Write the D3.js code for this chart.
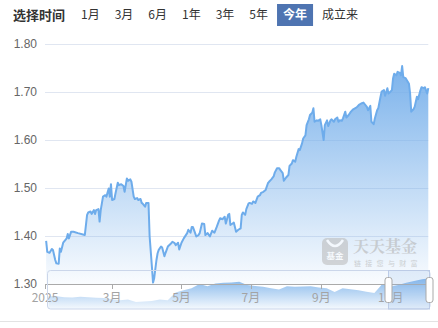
<!DOCTYPE html>
<html>
<head>
<meta charset="utf-8">
<script src="https://cdn.jsdelivr.net/npm/d3@7"></script>
<style>
  html, body { margin: 0; padding: 0; background: #fff; }
  svg { display: block; font-family: "Liberation Sans", Arial, "Noto Sans CJK SC", sans-serif; }
  .cjk { font-family: "Noto Sans CJK SC", "Microsoft YaHei", sans-serif; }
</style>
</head>
<body>
<svg id="chart" width="438" height="328"></svg>
<script>
var YEAR = 2025;

// 今年 unit NAV
var navDates = [
  '01-02','01-03','01-05','01-07','01-08','01-10','01-11','01-13','01-14','01-15',
  '01-17','01-19','01-20','01-21','01-22','01-24','01-26','01-30','02-05','02-07',
  '02-08','02-10','02-11','02-13','02-14','02-15','02-17','02-18','02-19','02-21',
  '02-23','02-24','02-26','02-27','02-28','03-01','03-03','03-04','03-06','03-07',
  '03-09','03-11','03-12','03-14','03-15','03-17','03-18','03-20','03-21','03-23',
  '03-24','03-26','03-27','03-28','03-30','03-31','04-02','04-03','04-05','04-06',
  '04-07','04-09','04-10','04-11','04-13','04-14','04-16','04-17','04-19','04-22',
  '04-23','04-25','04-26','04-28','04-29','05-01','05-03','05-06','05-07','05-09',
  '05-10','05-11','05-13','05-14','05-16','05-17','05-19','05-21','05-22','05-24',
  '05-26','05-28','05-30','06-01','06-03','06-04','06-06','06-08','06-09','06-11',
  '06-12','06-13','06-15','06-16','06-18','06-20','06-22','06-23','06-24','06-26',
  '06-27','06-29','06-30','07-02','07-03','07-05','07-07','07-09','07-10','07-12',
  '07-14','07-16','07-17','07-19','07-21','07-22','07-24','07-26','07-27','07-29',
  '07-30','08-01','08-03','08-04','08-06','08-07','08-09','08-10','08-12','08-13',
  '08-15','08-16','08-18','08-19','08-21','08-22','08-24','08-25','08-26','08-28',
  '08-29','08-31','09-01','09-03','09-04','09-06','09-07','09-09','09-10','09-12',
  '09-13','09-15','09-16','09-17','09-19','09-20','09-22','09-23','09-25','09-27',
  '09-29','10-02','10-04','10-06','10-08','10-09','10-11','10-12','10-14','10-15',
  '10-17','10-18','10-20','10-21','10-23','10-24','10-26','10-27','10-29','10-30',
  '10-31','11-02','11-03','11-04','11-06','11-07','11-09','11-10','11-11','11-12',
  '11-14','11-15','11-17','11-18','11-19','11-21','11-22','11-24','11-25','11-27',
  '11-28','11-30','12-01','12-03','12-04'
];
var navValues = [
  1.390,1.367,1.365,1.373,1.371,1.350,1.343,1.342,1.374,1.367,
  1.386,1.392,1.395,1.404,1.395,1.409,1.409,1.406,1.402,1.444,
  1.449,1.451,1.446,1.454,1.446,1.454,1.456,1.430,1.454,1.482,
  1.485,1.482,1.499,1.482,1.508,1.475,1.477,1.489,1.511,1.506,
  1.508,1.504,1.492,1.520,1.515,1.518,1.513,1.482,1.477,1.479,
  1.475,1.477,1.469,1.467,1.461,1.469,1.469,1.399,1.336,1.303,
  1.312,1.350,1.364,1.371,1.378,1.376,1.358,1.365,1.378,1.385,
  1.388,1.385,1.381,1.386,1.372,1.386,1.395,1.406,1.413,1.407,
  1.419,1.419,1.406,1.399,1.402,1.406,1.426,1.425,1.402,1.406,
  1.399,1.411,1.407,1.419,1.432,1.437,1.435,1.440,1.426,1.444,
  1.446,1.423,1.426,1.428,1.409,1.413,1.416,1.444,1.449,1.444,
  1.456,1.468,1.469,1.467,1.472,1.469,1.482,1.485,1.490,1.492,
  1.496,1.510,1.513,1.518,1.524,1.532,1.541,1.541,1.537,1.531,
  1.515,1.522,1.527,1.546,1.551,1.558,1.555,1.565,1.581,1.579,
  1.593,1.603,1.610,1.631,1.643,1.652,1.657,1.666,1.638,1.641,
  1.640,1.643,1.631,1.600,1.631,1.641,1.629,1.641,1.643,1.638,
  1.643,1.647,1.638,1.641,1.640,1.645,1.659,1.647,1.652,1.659,
  1.664,1.668,1.673,1.676,1.678,1.675,1.669,1.662,1.671,1.638,
  1.633,1.645,1.662,1.666,1.690,1.701,1.704,1.692,1.708,1.697,
  1.699,1.704,1.728,1.738,1.735,1.742,1.740,1.735,1.754,1.731,
  1.729,1.725,1.717,1.697,1.659,1.664,1.669,1.690,1.685,1.703,
  1.710,1.708,1.710,1.697,1.708
];

// full history shown in the zoom slider
var historyValues = [
  1.15,1.15,1.12,1.11,1.13,1.12,1.10,1.09,1.05,1.02,1.04,0.96,0.98,0.99,
  1.04,1.02,1.27,1.35,1.41,1.55,1.48,1.57,1.59,1.60,1.63,1.52,1.49,1.46,
  1.41,1.37,1.48,1.46,1.47,1.48,1.44,1.41,1.29,1.41,1.38,1.35,1.30,1.26,
  1.55,1.46,1.52,1.59,1.65,1.71,1.74
];

var yTicks = [1.30, 1.40, 1.50, 1.60, 1.70, 1.80];
var xTickDates = ['01-01', '03-01', '05-01', '07-01', '09-01', '11-01'];
var xTickLabels = ['2025', '3月', '5月', '7月', '9月', '11月'];
var tabs = ['1月', '3月', '6月', '1年', '3年', '5年', '今年', '成立来'];
var activeTab = '今年';

var parseDay = d3.timeParse('%Y-%m-%d');
function toDate(md) { return parseDay(YEAR + '-' + md); }

var data = navDates.map(function(d, i) {
  return {date: toDate(d), value: navValues[i]};
});

var svg = d3.select('#chart');
var defs = svg.append('defs');

var plot = {left: 45, right: 428.3, top: 44, bottom: 284};

var x = d3.scaleTime()
  .domain([toDate('01-01'), data[data.length - 1].date])
  .range([plot.left, plot.right]);
var y = d3.scaleLinear()
  .domain([1.30, 1.80])
  .range([plot.bottom, plot.top]);

// ---- time range tabs
var head = svg.append('g').attr('class', 'cjk');
head.append('text')
  .attr('x', 13).attr('y', 15).attr('dy', '0.35em')
  .attr('font-size', 13).attr('font-weight', 'bold').attr('fill', '#333')
  .text('选择时间');

var tabX = 81;
tabs.forEach(function(label) {
  var active = label === activeTab;
  var g = head.append('g');
  var rect = g.append('rect');
  var t = g.append('text')
    .attr('x', tabX).attr('y', 15).attr('dy', '0.35em')
    .attr('font-size', 12)
    .attr('font-weight', active ? 'bold' : 'normal')
    .attr('fill', active ? '#fff' : '#333')
    .text(label);
  var w = t.node().getComputedTextLength();
  if (active)
    rect.attr('x', tabX - 6).attr('y', 4).attr('width', w + 12).attr('height', 22)
      .attr('fill', '#4e74b1');
  else
    rect.remove();
  tabX += w + 15;
});

// ---- grid + y labels
svg.append('g')
  .selectAll('line')
  .data(yTicks.slice(1))
  .join('line')
    .attr('x1', plot.left).attr('x2', plot.right)
    .attr('y1', function(d) { return Math.round(y(d)) + 0.5; })
    .attr('y2', function(d) { return Math.round(y(d)) + 0.5; })
    .attr('stroke', '#e0e6f1');

svg.append('g')
  .selectAll('text')
  .data(yTicks)
  .join('text')
    .attr('x', 37).attr('y', function(d) { return y(d); })
    .attr('dy', '0.35em').attr('text-anchor', 'end')
    .attr('font-size', 12).attr('fill', '#666')
    .text(function(d) { return d3.format('.2f')(d); });

// ---- area + line
var maxV = d3.max(navValues);
var grad = defs.append('linearGradient')
  .attr('id', 'areaFill')
  .attr('gradientUnits', 'userSpaceOnUse')
  .attr('x1', 0).attr('x2', 0)
  .attr('y1', y(maxV)).attr('y2', plot.bottom);
grad.append('stop').attr('offset', 0).attr('stop-color', '#74aeea').attr('stop-opacity', 0.95);
grad.append('stop').attr('offset', 1).attr('stop-color', '#74aeea').attr('stop-opacity', 0.04);

var area = d3.area()
  .x(function(d) { return x(d.date); })
  .y0(plot.bottom)
  .y1(function(d) { return y(d.value); });
var line = d3.line()
  .x(function(d) { return x(d.date); })
  .y(function(d) { return y(d.value); });

svg.append('path').datum(data).attr('d', area).attr('fill', 'url(#areaFill)');

// ---- watermark
var wm = svg.append('g').attr('class', 'cjk').attr('opacity', 0.6);
wm.append('rect')
  .attr('x', 322).attr('y', 238).attr('width', 26).attr('height', 27).attr('rx', 5)
  .attr('fill', '#bdbdbd');
wm.append('path')
  .attr('d', 'M327,240 Q335,252 343,240')
  .attr('fill', 'none').attr('stroke', '#fff').attr('stroke-width', 2.5);
wm.append('text')
  .attr('x', 335).attr('y', 259).attr('text-anchor', 'middle')
  .attr('font-size', 8.5).attr('font-weight', 'bold').attr('fill', '#fff')
  .text('基金');
wm.append('text')
  .attr('x', 353).attr('y', 251.5)
  .attr('font-size', 16).attr('font-weight', 'bold').attr('fill', '#b5b5b5')
  .attr('font-family', '"Noto Serif CJK SC", "Noto Sans CJK SC", serif')
  .text('天天基金');
wm.append('text')
  .attr('x', 354).attr('y', 265.5)
  .attr('font-size', 7).attr('letter-spacing', 4.3).attr('fill', '#b5b5b5')
  .text('链接您与财富');

svg.append('path').datum(data).attr('d', line)
  .attr('fill', 'none').attr('stroke', '#6eaceb').attr('stroke-width', 2)
  .attr('stroke-linejoin', 'round');

// ---- zoom slider, behind axis labels
var slider = {left: 47.5, right: 430, top: 270.5, bottom: 309};
var hx = d3.scaleLinear()
  .domain([0, historyValues.length - 1])
  .range([slider.left + 1, slider.right]);
var hy = d3.scaleLinear()
  .domain(d3.extent(historyValues))
  .range([302, 278.3]);

var miniGrad = defs.append('linearGradient')
  .attr('id', 'miniFill')
  .attr('gradientUnits', 'userSpaceOnUse')
  .attr('x1', 0).attr('x2', 0).attr('y1', 278).attr('y2', slider.bottom);
miniGrad.append('stop').attr('offset', 0).attr('stop-color', '#7db3ea').attr('stop-opacity', 0.95);
miniGrad.append('stop').attr('offset', 1).attr('stop-color', '#7db3ea').attr('stop-opacity', 0.08);

svg.append('path')
  .datum(historyValues)
  .attr('d', d3.area()
    .x(function(d, i) { return hx(i); })
    .y0(slider.bottom)
    .y1(function(d) { return hy(d); }))
  .attr('fill', 'url(#miniFill)');

// ---- x axis
var xAxis = svg.append('g');
xAxis.append('line')
  .attr('x1', plot.left).attr('x2', plot.right)
  .attr('y1', plot.bottom + 0.5).attr('y2', plot.bottom + 0.5)
  .attr('stroke', '#aaa');
var xTicks = xTickDates.map(toDate);
xAxis.selectAll('line.tick')
  .data(xTicks)
  .join('line')
    .attr('class', 'tick')
    .attr('x1', function(d) { return Math.round(x(d)) + 0.5; })
    .attr('x2', function(d) { return Math.round(x(d)) + 0.5; })
    .attr('y1', plot.bottom).attr('y2', plot.bottom + 5)
    .attr('stroke', '#aaa');
xAxis.selectAll('text')
  .data(xTicks)
  .join('text')
    .attr('class', 'cjk')
    .attr('x', function(d) { return x(d); })
    .attr('y', 298).attr('dy', '0.35em').attr('text-anchor', 'middle')
    .attr('font-size', 12).attr('fill', '#a3a3a3')
    .text(function(d, i) { return xTickLabels[i]; });

// slider frame, window and handles
svg.append('rect')
  .attr('x', slider.left).attr('y', slider.top)
  .attr('width', slider.right - slider.left).attr('height', slider.bottom - slider.top)
  .attr('rx', 3)
  .attr('fill', 'none').attr('stroke', '#cbd6ea');

var win = {left: 388.5, right: 429.5};
svg.append('rect')
  .attr('x', win.left).attr('y', slider.top)
  .attr('width', win.right - win.left).attr('height', slider.bottom - slider.top)
  .attr('fill', 'rgba(135,175,235,0.18)')
  .attr('stroke', '#bccbe6');

svg.append('g')
  .selectAll('rect')
  .data([win.left, win.right])
  .join('rect')
    .attr('x', function(d) { return d - 3.5; })
    .attr('y', 277.5).attr('width', 7).attr('height', 25).attr('rx', 2.5)
    .attr('fill', '#fff').attr('stroke', '#a9a9a9');

// bottom separator
svg.append('line')
  .attr('x1', 0).attr('x2', 438).attr('y1', 321.5).attr('y2', 321.5)
  .attr('stroke', '#e3e3e3');
</script>
</body>
</html>
